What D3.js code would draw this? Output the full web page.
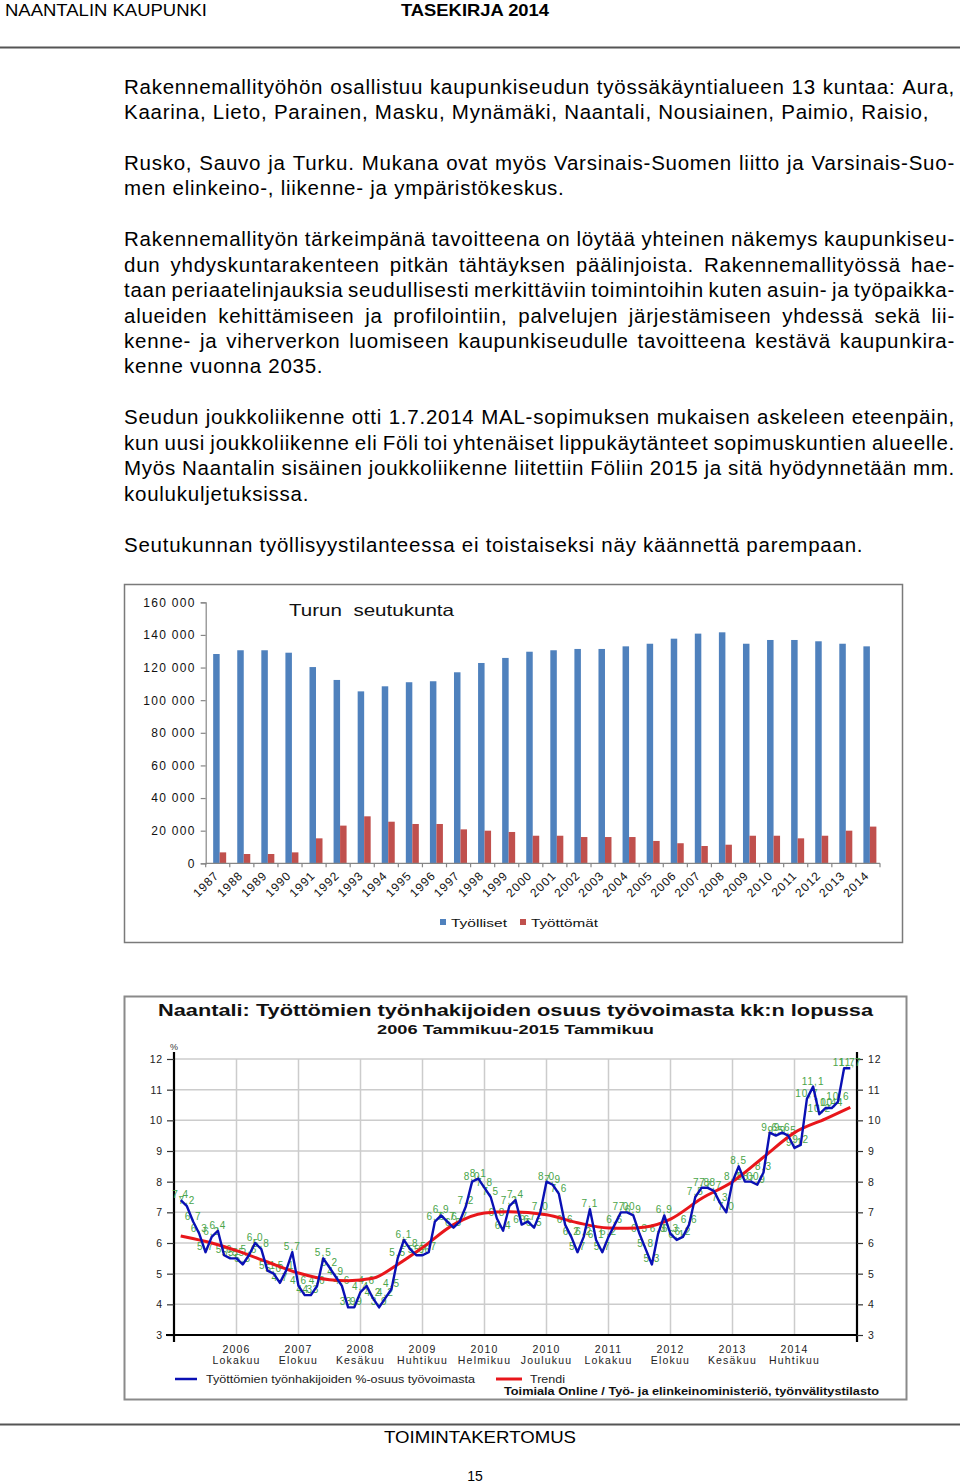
<!DOCTYPE html>
<html><head><meta charset="utf-8">
<script src="https://cdn.jsdelivr.net/npm/d3@7"></script>
<style>
body{margin:0;background:#fff;}
svg{display:block;font-family:"Liberation Sans",Arial,Helvetica,sans-serif;}
</style></head><body>
<svg id="page" width="960" height="1484"></svg>
<script>
// ---------------- DATA ----------------
const headerLeft = "NAANTALIN KAUPUNKI";
const headerRight = "TASEKIRJA 2014";
const footerTitle = "TOIMINTAKERTOMUS";
const pageNumber = "15";

const bodyLines = [
  ["Rakennemallityöhön osallistuu kaupunkiseudun työssäkäyntialueen 13 kuntaa: Aura,", true],
  ["Kaarina, Lieto, Parainen, Masku, Mynämäki, Naantali, Nousiainen, Paimio, Raisio,", false],
  ["Rusko, Sauvo ja Turku. Mukana ovat myös Varsinais-Suomen liitto ja Varsinais-Suo-", true],
  ["men elinkeino-, liikenne- ja ympäristökeskus.", false],
  ["Rakennemallityön tärkeimpänä tavoitteena on löytää yhteinen näkemys kaupunkiseu-", true],
  ["dun yhdyskuntarakenteen pitkän tähtäyksen päälinjoista. Rakennemallityössä hae-", true],
  ["taan periaatelinjauksia seudullisesti merkittäviin toimintoihin kuten asuin- ja työpaikka-", true],
  ["alueiden kehittämiseen ja profilointiin, palvelujen järjestämiseen yhdessä sekä lii-", true],
  ["kenne- ja viherverkon luomiseen kaupunkiseudulle tavoitteena kestävä kaupunkira-", true],
  ["kenne vuonna 2035.", false],
  ["Seudun joukkoliikenne otti 1.7.2014 MAL-sopimuksen mukaisen askeleen eteenpäin,", true],
  ["kun uusi joukkoliikenne eli Föli toi yhtenäiset lippukäytänteet sopimuskuntien alueelle.", true],
  ["Myös Naantalin sisäinen joukkoliikenne liitettiin Föliin 2015 ja sitä hyödynnetään mm.", true],
  ["koulukuljetuksissa.", false],
  ["Seutukunnan työllisyystilanteessa ei toistaiseksi näy käännettä parempaan.", false]
];

// Bar chart: Turun seutukunta
const barTitle = "Turun  seutukunta";
const barYears = ["1987","1988","1989","1990","1991","1992","1993","1994","1995","1996","1997","1998","1999","2000",
  "2001","2002","2003","2004","2005","2006","2007","2008","2009","2010","2011","2012","2013","2014"];
const employed = [128300,130600,130600,129100,120300,112400,105400,108500,111000,111600,117100,122800,125900,129700,
  130600,131400,131400,133000,134600,137700,140800,141600,134600,136900,136900,136100,134600,133000];
const unemployed = [6700,5700,5700,6700,15300,23100,28800,25500,24100,24100,20800,20000,19200,16900,
  16900,16100,16100,16100,13700,12300,10600,11400,16900,16900,15300,16900,20000,22500];
const barYTicks = [0,20000,40000,60000,80000,100000,120000,140000,160000];
const barSeriesNames = ["Työlliset","Työttömät"];

// Line chart: Naantali monthly unemployment rate, 2006 Jan - 2015 Jan
const lineTitle = "Naantali: Työttömien työnhakijoiden osuus työvoimasta kk:n lopussa";
const lineSubtitle = "2006 Tammikuu-2015 Tammikuu";
const monthlyRate = [
  7.4,7.2,6.7,6.3,5.7,6.2,6.4,5.6,5.5,5.5,5.3,5.6,
  6.0,5.8,5.1,5.0,4.7,5.1,5.7,4.6,4.3,4.3,4.6,5.5,
  5.2,4.9,4.6,3.9,3.9,4.4,4.6,4.2,3.9,4.2,4.5,5.5,
  6.1,5.8,5.6,5.6,5.7,6.7,6.9,6.7,6.5,6.7,7.2,8.0,
  8.1,7.8,7.5,6.8,6.4,7.2,7.4,6.6,6.7,6.5,7.0,8.0,
  7.9,7.6,6.6,6.2,5.7,6.2,7.1,6.1,5.7,6.2,6.6,7.0,
  7.0,6.9,6.3,5.8,5.3,6.3,6.9,6.3,6.1,6.2,6.6,7.5,
  7.8,7.8,7.7,7.3,7.0,8.0,8.5,8.0,8.0,7.9,8.3,9.6,
  9.5,9.6,9.5,9.1,9.2,10.7,11.1,10.2,10.4,10.4,10.6,11.7,
  11.7
];
const trendMonth = [0,5,9,14,19,24,27,31,35,39,44,49,53,59,64,69,72,75,79,84,89,94,99,104,108];
const trendValue = [6.23,6.0,5.75,5.38,5.02,4.8,4.77,4.85,5.3,5.85,6.6,6.98,7.02,6.92,6.66,6.49,6.48,6.52,6.78,7.45,8.0,8.8,9.6,10.05,10.42];
const lineYTicks = [3,4,5,6,7,8,9,10,11,12];
const finMonths = ["Tammikuu","Helmikuu","Maaliskuu","Huhtikuu","Toukokuu","Kesäkuu","Heinäkuu","Elokuu","Syyskuu","Lokakuu","Marraskuu","Joulukuu"];
const lineXTicks = [["2006","Lokakuu"],["2007","Elokuu"],["2008","Kesäkuu"],["2009","Huhtikuu"],["2010","Helmikuu"],
  ["2010","Joulukuu"],["2011","Lokakuu"],["2012","Elokuu"],["2013","Kesäkuu"],["2014","Huhtikuu"]];
const lineLegend = ["Työttömien työnhakijoiden %-osuus työvoimasta","Trendi"];
const lineSource = "Toimiala Online / Työ- ja elinkeinoministeriö, työnvälitystilasto";

// ---------------- PAGE ----------------
const svg = d3.select("#page");

svg.append("text").attr("x",5).attr("y",16).attr("font-size",16.5)
  .attr("textLength",202).attr("lengthAdjust","spacingAndGlyphs").text(headerLeft);
svg.append("text").attr("x",401).attr("y",16).attr("font-size",16.5).attr("font-weight","bold")
  .attr("textLength",148).attr("lengthAdjust","spacingAndGlyphs").text(headerRight);
svg.append("line").attr("x1",0).attr("x2",960).attr("y1",47.5).attr("y2",47.5).attr("stroke","#555").attr("stroke-width",2);

// body text
const bodyG = svg.append("g").attr("font-size",20.5).attr("letter-spacing","0.75px").attr("fill","#000");
const baselines = [94,119,170,195,246,272,297,323,348,373,424,450,475,501,552];
const textLeft = 124, textRight = 955;
bodyLines.forEach((ln,i)=>{
  const [txt,just] = ln;
  const y = baselines[i];
  if(!just){
    bodyG.append("text").attr("x",textLeft).attr("y",y).text(txt);
    return;
  }
  const words = txt.split(" ");
  const nodes = words.map(w=>bodyG.append("text").attr("y",y).text(w));
  const widths = nodes.map(n=>n.node().getComputedTextLength());
  const total = d3.sum(widths);
  let gap = (textRight-textLeft-total)/(words.length-1);
  let scale = 1;
  if(gap < 4){ scale = (textRight-textLeft-4*(words.length-1))/total; gap = 4; }
  let cx = textLeft;
  nodes.forEach((n,k)=>{
    n.attr("x",cx);
    if(scale!==1) n.attr("textLength",widths[k]*scale).attr("lengthAdjust","spacingAndGlyphs");
    cx += widths[k]*scale+gap;
  });
});

// ---------------- BAR CHART ----------------
const bc = svg.append("g");
bc.append("rect").attr("x",124.5).attr("y",584.5).attr("width",778).attr("height",358)
  .attr("fill","#fff").attr("stroke","#7a7a7a").attr("stroke-width",1.5);

const bx = d3.scaleBand().domain(barYears).range([205.7,880]).padding(0);
const bInner = d3.scaleBand().domain(["e","u"]).range([bx.bandwidth()*0.31, bx.bandwidth()*0.85]).padding(0);
const by = d3.scaleLinear().domain([0,160000]).range([863.3,602.3]);

const fmtSpace = v => d3.format(",")(v).replace(/,/g," ");
const yAx = bc.append("g").attr("transform","translate(205.7,0)")
  .call(d3.axisLeft(by).tickValues(barYTicks).tickSize(5).tickPadding(5).tickFormat(fmtSpace));
yAx.select(".domain").attr("stroke","#868686").attr("stroke-width",1.2);
yAx.selectAll(".tick line").attr("stroke","#868686").attr("stroke-width",1.2);
yAx.selectAll("text").attr("font-family","Liberation Sans, Arial").attr("font-size",12)
  .attr("letter-spacing","1.3px").attr("fill","#111");

bc.selectAll("rect.emp").data(barYears).join("rect").attr("class","emp")
  .attr("x",d=>bx(d)+bInner("e")).attr("width",bInner.bandwidth())
  .attr("y",(d,i)=>by(employed[i])).attr("height",(d,i)=>by(0)-by(employed[i]))
  .attr("fill","#4f81bd");
bc.selectAll("rect.unemp").data(barYears).join("rect").attr("class","unemp")
  .attr("x",d=>bx(d)+bInner("u")).attr("width",bInner.bandwidth())
  .attr("y",(d,i)=>by(unemployed[i])).attr("height",(d,i)=>by(0)-by(unemployed[i]))
  .attr("fill","#c0504d");

// x axis
bc.append("line").attr("x1",205.7).attr("x2",880).attr("y1",by(0)).attr("y2",by(0)).attr("stroke","#868686").attr("stroke-width",1.2);
bc.selectAll("line.xt").data(barYears.concat(["end"])).join("line").attr("class","xt")
  .attr("x1",d=>d==="end"?880:bx(d)).attr("x2",d=>d==="end"?880:bx(d))
  .attr("y1",by(0)).attr("y2",by(0)+4).attr("stroke","#868686").attr("stroke-width",1.2);
bc.selectAll("text.xl").data(barYears).join("text").attr("class","xl")
  .attr("transform",d=>`translate(${bx(d)+bx.bandwidth()/2-4},${by(0)+7}) rotate(-45)`)
  .attr("text-anchor","end").attr("dy","0.7em").attr("font-size",12).attr("letter-spacing","1px").attr("fill","#111")
  .text(d=>d);

bc.append("text").attr("x",289).attr("y",616).attr("font-size",16.5).attr("fill","#111")
  .attr("textLength",165).attr("lengthAdjust","spacingAndGlyphs").attr("xml:space","preserve").text(barTitle);

// legend
const legColors = ["#4f81bd","#c0504d"];
const legX = [440,520];
const legW = [56,67];
barSeriesNames.forEach((n,i)=>{
  bc.append("rect").attr("x",legX[i]).attr("y",919).attr("width",6).attr("height",6).attr("fill",legColors[i]);
  bc.append("text").attr("x",legX[i]+11).attr("y",926.5).attr("font-size",11.5).attr("fill","#111")
    .attr("textLength",legW[i]).attr("lengthAdjust","spacingAndGlyphs").text(n);
});

// ---------------- LINE CHART ----------------
const lc = svg.append("g");
lc.append("rect").attr("x",124.5).attr("y",996.5).attr("width",782).attr("height",403)
  .attr("fill","#fff").attr("stroke","#8a8a8a").attr("stroke-width",2);

lc.append("text").attr("x",158).attr("y",1016).attr("font-size",16).attr("font-weight","bold").attr("fill","#111")
  .attr("textLength",715).attr("lengthAdjust","spacingAndGlyphs").text(lineTitle);
lc.append("text").attr("x",377).attr("y",1034).attr("font-size",13).attr("font-weight","bold").attr("fill","#111")
  .attr("textLength",277).attr("lengthAdjust","spacingAndGlyphs").text(lineSubtitle);

const lx = d3.scaleLinear().domain([0,108]).range([180.7,850.3]);
const ly = d3.scaleLinear().domain([3,12]).range([1335,1059]);
const axL = 174, axR = 857;
const tickIdx = lineXTicks.map(t=>(+t[0]-2006)*12 + finMonths.indexOf(t[1]));

// grid
lc.selectAll("line.hg").data(lineYTicks.slice(1)).join("line").attr("class","hg")
  .attr("x1",axL).attr("x2",axR).attr("y1",d=>ly(d)).attr("y2",d=>ly(d)).attr("stroke","#cccccc").attr("stroke-width",1.5);
lc.selectAll("line.vg").data(tickIdx).join("line").attr("class","vg")
  .attr("x1",d=>lx(d)).attr("x2",d=>lx(d)).attr("y1",ly(12)).attr("y2",ly(3)).attr("stroke","#cccccc").attr("stroke-width",1.5);

// axes
const lAx = lc.append("g").attr("transform",`translate(${axL},0)`)
  .call(d3.axisLeft(ly).tickValues(lineYTicks).tickSize(7).tickPadding(4).tickFormat(d=>d));
const rAx = lc.append("g").attr("transform",`translate(${axR},0)`)
  .call(d3.axisRight(ly).tickValues(lineYTicks).tickSize(6).tickPadding(5).tickFormat(d=>d));
[lAx,rAx].forEach(a=>{
  a.select(".domain").attr("d",`M0,${ly(12)-7}V${ly(3)+7}`).attr("stroke","#000").attr("stroke-width",2.2);
  a.selectAll(".tick line").attr("stroke","#333").attr("stroke-width",1.2);
  a.selectAll("text").attr("font-family","Liberation Sans, Arial").attr("font-size",10.5).attr("letter-spacing","0.8px").attr("fill","#222");
});
lc.append("line").attr("x1",166).attr("x2",axR).attr("y1",ly(3)).attr("y2",ly(3)).attr("stroke","#000").attr("stroke-width",2.2);
lc.append("text").attr("x",axL).attr("y",1050).attr("text-anchor","middle").attr("font-size",9).attr("fill","#333").text("%");

const xl = lc.selectAll("g.xl").data(lineXTicks).join("g").attr("class","xl")
  .attr("transform",(d,i)=>`translate(${lx(tickIdx[i])},0)`);
xl.append("text").attr("y",1353).attr("text-anchor","middle").attr("font-size",10.5).attr("letter-spacing","1.2px").attr("fill","#222").text(d=>d[0]);
xl.append("text").attr("y",1364).attr("text-anchor","middle").attr("font-size",10.5).attr("letter-spacing","1.2px").attr("fill","#222").text(d=>d[1]);

// data labels
const fmtFi = v => d3.format(".1f")(v).replace(".",",");
lc.selectAll("text.dl").data(monthlyRate).join("text").attr("class","dl")
  .attr("x",(d,i)=>lx(i)).attr("y",d=>ly(d)-2).attr("text-anchor","middle")
  .attr("font-size",10).attr("letter-spacing","1px").attr("fill","#4aa54a").text(fmtFi);

// trend
const trendPts = trendMonth.map((m,i)=>[m,trendValue[i]]);
lc.append("path").datum(trendPts)
  .attr("d",d3.line().x(d=>lx(d[0])).y(d=>ly(d[1])).curve(d3.curveMonotoneX))
  .attr("fill","none").attr("stroke","#e8161b").attr("stroke-width",3);
// series line
lc.append("path").datum(monthlyRate)
  .attr("d",d3.line().x((d,i)=>lx(i)).y(d=>ly(d)))
  .attr("fill","none").attr("stroke","#0a10b4").attr("stroke-width",2.4).attr("stroke-linejoin","round");

// legend
lc.append("line").attr("x1",175).attr("x2",197).attr("y1",1379).attr("y2",1379).attr("stroke","#0a10b4").attr("stroke-width",2.5);
lc.append("text").attr("x",206).attr("y",1383).attr("font-size",11).attr("fill","#222")
  .attr("textLength",269).attr("lengthAdjust","spacingAndGlyphs").text(lineLegend[0]);
lc.append("line").attr("x1",496).attr("x2",522).attr("y1",1379).attr("y2",1379).attr("stroke","#e8161b").attr("stroke-width",3);
lc.append("text").attr("x",530).attr("y",1383).attr("font-size",11).attr("fill","#222")
  .attr("textLength",35).attr("lengthAdjust","spacingAndGlyphs").text(lineLegend[1]);
lc.append("text").attr("x",504).attr("y",1395).attr("font-size",10.5).attr("font-weight","bold").attr("fill","#111")
  .attr("textLength",375).attr("lengthAdjust","spacingAndGlyphs").text(lineSource);

// footer
svg.append("line").attr("x1",0).attr("x2",960).attr("y1",1424.5).attr("y2",1424.5).attr("stroke","#555").attr("stroke-width",2);
svg.append("text").attr("x",480).attr("y",1443).attr("text-anchor","middle").attr("font-size",17)
  .attr("textLength",192).attr("lengthAdjust","spacingAndGlyphs").text(footerTitle);
svg.append("text").attr("x",475).attr("y",1481).attr("text-anchor","middle").attr("font-size",14).text(pageNumber);
</script>
</body></html>
